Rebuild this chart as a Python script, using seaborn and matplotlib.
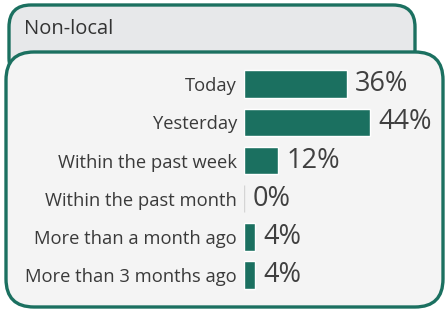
import matplotlib
matplotlib.use("Agg")
import matplotlib.pyplot as plt
from matplotlib.patches import FancyBboxPatch
import seaborn as sns
import pandas as pd

# datos
categories = ["Today", "Yesterday", "Within the past week", "Within the past month",
              "More than a month ago", "More than 3 months ago"]
values = [36, 44, 12, 0, 4, 4]
title = "Non-local"

teal = "#1b7060"
df = pd.DataFrame({"cat": categories, "val": values})

sns.set_style("white")
plt.rcParams["font.family"] = ["Open Sans", "DejaVu Sans"]

W, H = 448, 311
fig = plt.figure(figsize=(W / 100, H / 100), dpi=100)
fig.patch.set_facecolor("white")

def px_box(x0, y0, x1, y1, r, face, z):
    # caja redondeada en pixeles (y desde arriba)
    p = FancyBboxPatch((x0 / W, 1 - y1 / H), (x1 - x0) / W, (y1 - y0) / H,
                       boxstyle=f"round,pad=0,rounding_size={r / W}",
                       transform=fig.transFigure, facecolor=face,
                       edgecolor=teal, linewidth=2.4, mutation_aspect=W / H,
                       zorder=z)
    fig.add_artist(p)

# pestaña y caja principal
px_box(9, 5, 415, 80, 22, "#e7e8ea", -3)
fig.text(24 / W, 1 - 29 / H, title, fontsize=14.5, color="#333333",
         va="center", ha="left", zorder=-2)
px_box(6, 52, 443, 307, 28, "#f4f4f4", -1)

# ejes de barras
x0, px_per = 244, 2.86
top, step = 65, 38.2
ax = fig.add_axes([x0 / W, 1 - (top + 6 * step) / H, 50 * px_per / W, 6 * step / H])
ax.set_zorder(5)
ax.set_facecolor("none")
sns.barplot(data=df, x="val", y="cat", orient="h", color=teal, saturation=1,
            width=0.72, ax=ax)
ax.set_xlim(0, 50)
ax.set_ylim(5.5, -0.5)
ax.set_xlabel("")
ax.set_ylabel("")
ax.set_xticks([])
sns.despine(ax=ax, left=True, bottom=True)
ax.tick_params(axis="y", length=0, pad=5, labelsize=13.2, labelcolor="#3a3a3a")

# la barra de 0% se ve como una linea gris fina
for bar in ax.patches:
    if bar.get_width() == 0:
        bar.set_edgecolor("#d5d5d5")
        bar.set_linewidth(1)

for i, v in enumerate(values):
    ax.annotate(f"{v}%", (v, i), xytext=(6, 0), textcoords="offset points",
                va="center", ha="left", fontsize=19.5, color="#404040")

fig.savefig("out.png", dpi=100)
